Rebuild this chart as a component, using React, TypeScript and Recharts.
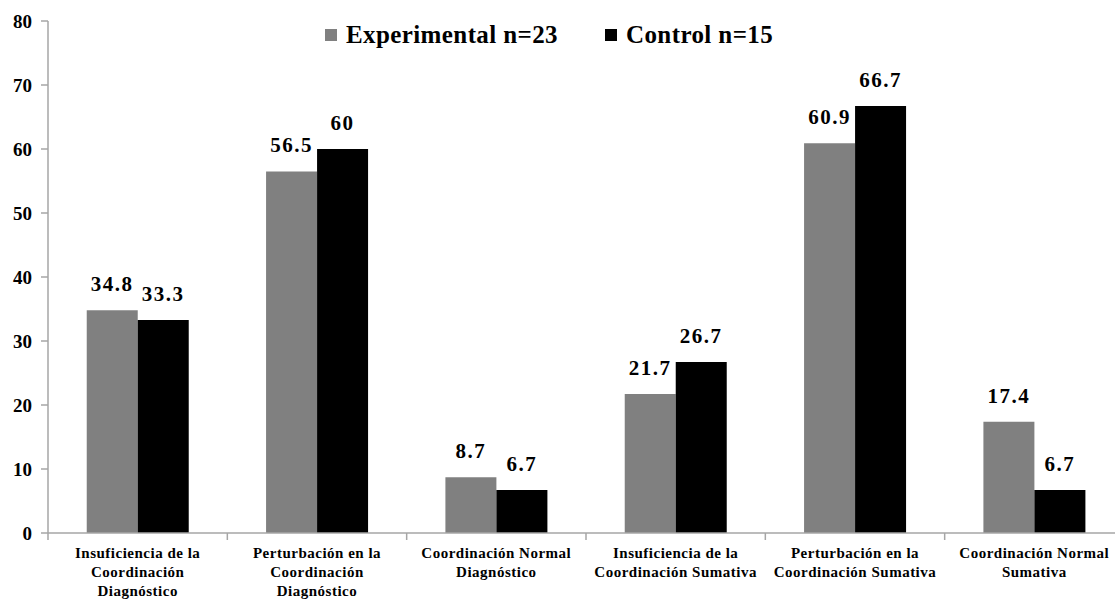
import React from "react";
import { BarChart, Bar, XAxis, YAxis, LabelList } from "recharts";

const categories = [
  ["Insuficiencia de la", "Coordinación", "Diagnóstico"],
  ["Perturbación en la", "Coordinación", "Diagnóstico"],
  ["Coordinación Normal", "Diagnóstico"],
  ["Insuficiencia de la", "Coordinación Sumativa"],
  ["Perturbación en la", "Coordinación Sumativa"],
  ["Coordinación Normal", "Sumativa"],
];
const experimental = [34.8, 56.5, 8.7, 21.7, 60.9, 17.4];
const control = [33.3, 60, 6.7, 26.7, 66.7, 6.7];
const yTicks = [0, 10, 20, 30, 40, 50, 60, 70, 80];
const seriesNames = ["Experimental n=23", "Control n=15"];

const data = categories.map((c, i) => ({
  name: c.join(" "),
  lines: c,
  exp: experimental[i],
  ctl: control[i],
}));

const FONT = "'Liberation Serif', 'Times New Roman', Tinos, serif";
const AXIS = "#a6a6a6";

const XTick = (props: any) => {
  const { x, y, payload, index, visibleTicksCount } = props;
  const half = payload && payload.offset ? payload.offset : 89.7;
  const lines: string[] = data[payload.index ?? index]?.lines ?? [String(payload.value)];
  const isLast = index === (visibleTicksCount ?? 6) - 1;
  return (
    <g>
      <line x1={x - half} x2={x - half} y1={y - 8} y2={y - 1} stroke={AXIS} strokeWidth={1.5} />
      {isLast && <line x1={x + half} x2={x + half} y1={y - 8} y2={y - 1} stroke={AXIS} strokeWidth={1.5} />}
      <text textAnchor="middle" fontFamily={FONT} fontWeight="bold" fontSize={15} letterSpacing={0.5} fill="#000">
        {lines.map((l, i) => (
          <tspan key={i} x={x} y={y + 17 + i * 19}>
            {l}
          </tspan>
        ))}
      </text>
    </g>
  );
};

const labelStyle = { fontFamily: FONT, fontWeight: "bold", fontSize: 21, letterSpacing: 1.5, fill: "#000" };

export default function App() {
  return (
    <div style={{ position: "absolute", left: 0, top: 0, width: 1115, height: 599, overflow: "hidden", background: "#fff" }}>
      <BarChart
        width={1130}
        height={599}
        data={data}
        margin={{ top: 21, right: 6, bottom: 0, left: 0 }}
        barCategoryGap="21.6%"
        barGap={0}
      >
        <XAxis
          dataKey="name"
          interval={0}
          height={66}
          tickLine={false}
          axisLine={{ stroke: AXIS, strokeWidth: 1.5 }}
          tick={<XTick />}
        />
        <YAxis
          domain={[0, 80]}
          ticks={yTicks}
          width={48}
          interval={0}
          axisLine={{ stroke: AXIS, strokeWidth: 1.5 }}
          tickLine={{ stroke: AXIS, strokeWidth: 1.5 }}
          tickSize={7}
          tickMargin={9}
          tick={{ fontFamily: FONT, fontWeight: "bold", fontSize: 19, fill: "#000" }}
        />
        <Bar dataKey="exp" fill="#808080" isAnimationActive={false}>
          <LabelList dataKey="exp" position="top" offset={19} style={labelStyle} />
        </Bar>
        <Bar dataKey="ctl" fill="#000000" isAnimationActive={false}>
          <LabelList dataKey="ctl" position="top" offset={19} style={labelStyle} />
        </Bar>
      </BarChart>
      <div
        style={{
          position: "absolute",
          top: 21,
          left: 325,
          display: "flex",
          alignItems: "center",
          fontFamily: FONT,
          fontWeight: "bold",
          fontSize: 25,
          letterSpacing: 0.4,
          lineHeight: "28px",
          whiteSpace: "nowrap",
        }}
      >
        <span style={{ width: 12, height: 12, background: "#808080", display: "inline-block", marginRight: 9 }} />
        <span style={{ marginRight: 47 }}>{seriesNames[0]}</span>
        <span style={{ width: 12, height: 12, background: "#000", display: "inline-block", marginRight: 9 }} />
        <span>{seriesNames[1]}</span>
      </div>
    </div>
  );
}
